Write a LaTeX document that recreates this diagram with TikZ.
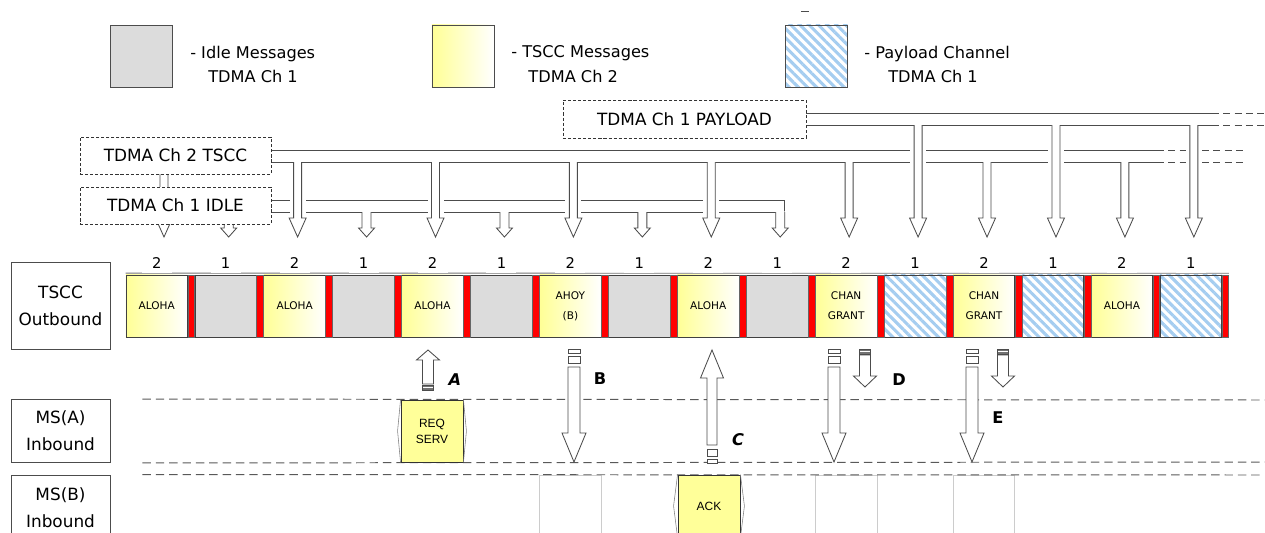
\documentclass[tikz,border=0pt]{standalone}
\usepackage{fontspec}
\setmainfont{DejaVu Sans}
\newfontfamily\arialfont{Liberation Sans}
\usepackage{tikz}
\usetikzlibrary{positioning,calc,backgrounds,patterns.meta}

\definecolor{idlegray}{RGB}{220,220,220}
\definecolor{tsccyellow}{RGB}{255,255,150}
\definecolor{msgyellow}{RGB}{255,255,153}
\definecolor{stripeblue}{RGB}{165,205,240}

\begin{document}
\begin{tikzpicture}[x=0.025cm, y=-0.025cm,
    slotbox/.style={rectangle, draw=black!75, line width=0.5pt, minimum width=1.54cm, minimum height=1.55cm, inner sep=0pt, align=center, font=\fontsize{7.5}{14}\selectfont},
    tsccslot/.style={slotbox, left color=tsccyellow, right color=white},
    idleslot/.style={slotbox, fill=idlegray},
    payslot/.style={slotbox, pattern={Lines[angle=-45, distance=4.6pt, line width=2.2pt]}, pattern color=stripeblue},
    redbar/.style={rectangle, draw=black!60, line width=0.4pt, fill=red, minimum width=0.17cm, minimum height=1.55cm, inner sep=0pt},
    slotnum/.style={fill=white, minimum width=0.75cm, minimum height=0.5cm, inner sep=0pt, anchor=south, font=\fontsize{10.5}{12}\selectfont},
    legendbox/.style={rectangle, draw=black!70, line width=0.6pt, minimum size=1.55cm},
    legendtext/.style={anchor=west, align=left, inner sep=0pt, font=\fontsize{11.5}{17.7}\selectfont},
    chanbox/.style={rectangle, draw=black!80, dash pattern=on 2.2pt off 1.4pt, line width=0.6pt, fill=white, font=\fontsize{12}{14}\selectfont},
    rowlabel/.style={rectangle, draw=black!70, line width=0.6pt, fill=white, minimum width=2.475cm, align=center, font=\fontsize{12}{19}\selectfont},
    bus/.style={draw=black!70, line width=0.7pt},
    busend/.style={bus, dash pattern=on 5pt off 3pt},
    rowline/.style={draw=black!65, line width=0.7pt, dash pattern=on 6pt off 3.5pt},
    pipe/.style={draw=black!70, line width=0.6pt, line join=miter},
    msgbox/.style={rectangle, draw=black!80, line width=0.6pt, fill=msgyellow, minimum width=1.55cm, minimum height=1.55cm, align=center, font=\arialfont\fontsize{8.5}{11.5}\selectfont},
    ghost/.style={rectangle, draw=black!20, line width=0.6pt, minimum width=1.54cm, minimum height=1.65cm},
    chev/.style={draw=black!50, line width=0.4pt},
    tag/.style={font=\bfseries\fontsize{11.5}{13}\selectfont},
    pics/dropper/.style n args={4}{code={
        \fill[white] ({-#3-4},{-#1+3}) rectangle ({#3+4},-#2);
        \fill[white] (-#3,{-#1-1}) -- (-#3,-#2) -- (-#4,-#2) -- (0,0) -- (#4,-#2) -- (#3,-#2) -- (#3,{-#1-1}) -- cycle;
        \draw[pipe] (-#3,-#1) -- (-#3,-#2) -- (-#4,-#2) -- (0,0) -- (#4,-#2) -- (#3,-#2) -- (#3,-#1);
    }},
    pics/striparrow/.style n args={4}{code={
        \draw[pipe, fill=white] (-#3,-#1) -- (-#3,-#2) -- (-#4,-#2) -- (0,0) -- (#4,-#2) -- (#3,-#2) -- (#3,-#1) -- cycle;
        \draw[pipe, fill=white] (-#3,{-#1-4}) rectangle (#3,{-#1-11});
        \draw[pipe, fill=white] (-#3,{-#1-14}) rectangle (#3,{-#1-18});
    }},
    pics/caparrow/.style n args={4}{code={
        \draw[pipe, fill=white] (-#3,-#1) -- (-#3,-#2) -- (-#4,-#2) -- (0,0) -- (#4,-#2) -- (#3,-#2) -- (#3,-#1) -- cycle;
        \draw[pipe, fill=black!55] (-#3,{-#1-1}) rectangle (#3,{-#1-6});
        \draw[white, line width=0.5pt] ({-#3+0.8},{-#1-3.5}) -- ({#3-0.8},{-#1-3.5});
    }}]

    \useasboundingbox (0,0) rectangle (1265,533);
    \clip (0,0) rectangle (1265,533);

    % Legend
    \draw[black!70] (801,11) -- (809,11);
    \node[legendbox, fill=idlegray] (legidle) at (141,56) {};
    \node[legendtext] (legidletxt) at (190,64.5) {- Idle Messages\\\hspace*{0.45cm}TDMA Ch 1};
    \node[legendbox, left color=tsccyellow, right color=white] (legtscc) at (463,56) {};
    \node[legendtext] (legtscctxt) at (511,64.5) {- TSCC Messages\\\hspace*{0.43cm}TDMA Ch 2};
    \node[legendbox, pattern={Lines[angle=-45, distance=4.6pt, line width=2.2pt]}, pattern color=stripeblue] (legpay) at (816.5,56) {};
    \node[legendtext] (legpaytxt) at (864,64.5) {- Payload Channel\\\hspace*{0.6cm}TDMA Ch 1};

    % Channel sources
    \node[chanbox, minimum width=6.075cm, minimum height=0.95cm] (paybox) at (684.5,119) {TDMA Ch 1 PAYLOAD};
    \node[chanbox, minimum width=4.775cm, minimum height=0.925cm] (tsccbox) at (175.5,155.5) {TDMA Ch 2 TSCC};
    \node[chanbox, minimum width=4.775cm, minimum height=0.925cm] (idlebox) at (175.5,205.5) {TDMA Ch 1 IDLE};

    \coordinate (payend) at (1212,119);
    \coordinate (payfar) at (1265,119);
    \coordinate (tsccend) at (1157,155.5);
    \coordinate (tsccfar) at (1245,155.5);
    \coordinate (idleend) at (780.2,205.5);

    % Outbound slots
    \foreach \i/\txt in {0/ALOHA, 2/ALOHA, 4/ALOHA, 6/{AHOY\\(B)}, 8/ALOHA, 10/{CHAN\\GRANT}, 12/{CHAN\\GRANT}, 14/ALOHA}
        \node[tsccslot] (s\i) at ({156.75+68.94*\i},306) {\txt};
    \foreach \i in {1,3,5,7,9}
        \node[idleslot] (s\i) at ({156.75+68.94*\i},306) {};
    \foreach \i in {11,13,15}
        \node[payslot] (s\i) at ({156.75+68.94*\i},306) {};
    \foreach \i in {0,...,15}
        \node[redbar] (r\i) at ({191.2+68.94*\i},306) {};

    \draw[black!55, line width=0.6pt] ($(s0.north west)+(0,-1.5)$) -- ($(r15.north east)+(0,-1.5)$);
    \foreach \i in {0,2,...,14}
        \node[slotnum] (n\i) at ($(s\i.north)+(0,-1)$) {2};
    \foreach \i in {1,3,...,15}
        \node[slotnum] (n\i) at ($(s\i.north)+(0,-1)$) {1};

    % Buses and drops
    \begin{pgfonlayer}{background}
        \foreach \d in {-6,6} {
            \draw[bus] ($(paybox.east)+(0,\d)$) -- ($(payend)+(0,\d)$);
            \draw[busend] ($(payend)+(0,\d)$) -- ($(payfar)+(0,\d)$);
        }
        \foreach \d in {-5.5,6.5} {
            \draw[bus] ($(tsccbox.east)+(0,\d)$) -- ($(tsccend)+(0,\d)$);
            \draw[busend] ($(tsccend)+(0,\d)$) -- ($(tsccfar)+(0,\d)$);
        }
        \draw[bus] ($(idlebox.east)+(0,-5.5)$) -- ($(idleend)+(4.5,-5.5)$) -- ($(idleend)+(4.5,6.5)$);
        \draw[bus] ($(idlebox.east)+(0,6.5)$) -- ($(idleend)+(-4.5,6.5)$);

        \pic at (164,237) {dropper={63}{19}{4}{8.5}};
        \foreach \i in {2,4,...,14}
            \pic at ({159.75+68.94*\i},237) {dropper={75}{19}{4}{8.5}};
        \foreach \i in {11,13,15}
            \pic at ({159.75+68.94*\i},237) {dropper={112}{19}{4}{8.5}};
        \foreach \i in {1,3,5,7,9}
            \pic at ({159.75+68.94*\i},237) {dropper={25}{9}{4.5}{8}};
    \end{pgfonlayer}

    % Row labels
    \node[rowlabel, minimum height=2.175cm] (outb) at (60.5,305.5) {TSCC\\Outbound};
    \node[rowlabel, minimum height=1.575cm] (msa) at (60.5,431) {MS(A)\\Inbound};
    \node[rowlabel, minimum height=1.65cm] (msb) at (60.5,508) {MS(B)\\Inbound};

    % Inbound rows
    \foreach \i in {6,10,12}
        \node[ghost] (g\i) at ({156.75+68.94*\i},508) {};
    \draw[rowline] ($(msa.north east)+(32,0)$) -- (1265,400);
    \draw[rowline] ($(msa.south east)+(32,0)$) -- (1265,462);
    \draw[rowline] ($(msb.north east)+(32,0)$) -- (1260,475);

    \node[msgbox] (req) at (432,431) {REQ\\SERV};
    \draw[chev] (req.north west) -- ($(req.west)+(-3,0)$) -- (req.south west);
    \draw[chev] (req.north east) -- ($(req.east)+(3,0)$) -- (req.south east);
    \node[msgbox] (ack) at (709,506) {ACK};
    \draw[chev] (ack.north west) -- ($(ack.west)+(-4,0)$) -- (ack.south west);
    \draw[chev] (ack.north east) -- ($(ack.east)+(4,0)$) -- (ack.south east);

    % Steps A-E
    \pic[rotate=180] at (428,350) {caparrow={34}{10}{5.5}{11.5}};
    \pic at (574,462) {striparrow={95}{29}{6}{12}};
    \pic[rotate=180] at (712,350) {striparrow={95}{28}{5}{11.5}};
    \pic at (834,462) {striparrow={95}{29}{6}{12}};
    \pic at (865,387) {caparrow={32}{11}{5.5}{11.5}};
    \pic at (972,462) {striparrow={95}{29}{6}{12}};
    \pic at (1003,387) {caparrow={32}{11}{5.5}{11.5}};

    \node[tag] (tagA) at (455,380) {\itshape A};
    \node[tag] (tagB) at (600,379) {B};
    \node[tag] (tagC) at (738,440) {\itshape C};
    \node[tag] (tagD) at (899,380) {D};
    \node[tag] (tagE) at (998,418) {E};

\end{tikzpicture}
\end{document}
